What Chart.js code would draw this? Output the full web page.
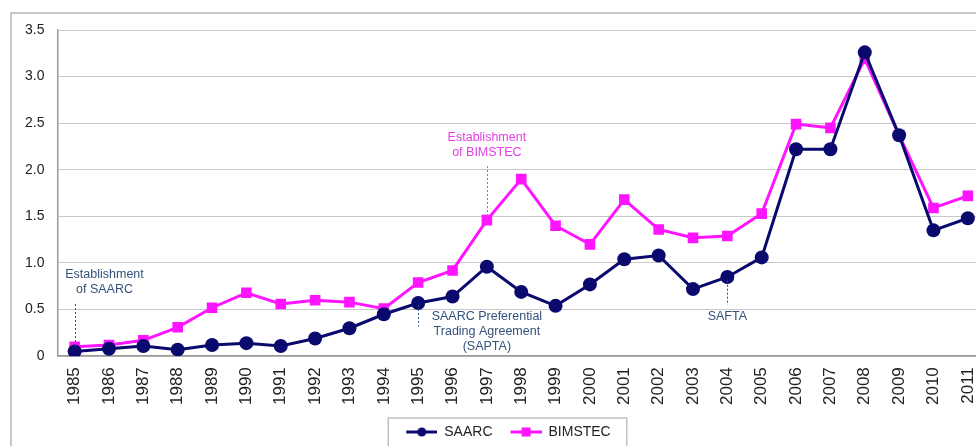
<!DOCTYPE html>
<html>
<head>
<meta charset="utf-8">
<script src="https://cdn.jsdelivr.net/npm/chart.js@4.4.1/dist/chart.umd.min.js"></script>
<style>
  html, body { margin: 0; padding: 0; background: #fff; overflow: hidden; }
  #frame {
    position: absolute; left: 10px; top: 12px;
    width: 1000px; height: 460px;
    border-left: 2px solid #c8c8c8; border-top: 2px solid #c8c8c8;
  }
  #chart { display: block; }
</style>
</head>
<body>
<div id="frame"><canvas id="chart" width="990" height="452"></canvas></div>
<script>
const years = ['1985', '1986', '1987', '1988', '1989', '1990', '1991', '1992', '1993',
  '1994', '1995', '1996', '1997', '1998', '1999', '2000', '2001', '2002', '2003',
  '2004', '2005', '2006', '2007', '2008', '2009', '2010', '2011'];

const saarc = [0.05, 0.08, 0.11, 0.07, 0.12, 0.14, 0.11, 0.19, 0.30,
  0.45, 0.57, 0.64, 0.96, 0.69, 0.54, 0.77, 1.04, 1.08, 0.72,
  0.85, 1.06, 2.22, 2.22, 3.26, 2.37, 1.35, 1.48];

const bimstec = [0.10, 0.12, 0.17, 0.31, 0.52, 0.68, 0.56, 0.60, 0.58,
  0.51, 0.79, 0.92, 1.46, 1.90, 1.40, 1.20, 1.68, 1.36, 1.27,
  1.29, 1.53, 2.49, 2.45, 3.19, 2.37, 1.59, 1.72];

// annotations (x as year index, y as value)
const noteText = [['Establishment', 'of SAARC'], ['Establishment', 'of BIMSTEC'],
  ['SAARC Preferential', 'Trading Agreement', '(SAPTA)'], ['SAFTA']];
const noteTextX = [0.87, 12, 12, 19];
const noteTextY = [0.88, 2.35, 0.42, 0.42];
const noteLineX = [0, 12, 10, 19];
const noteLineTop = [0.56, 2.04, 0.55, 0.81];
const noteLineBottom = [0.10, 1.46, 0.32, 0.55];
const noteColor = ['#34527a', '#e83de8', '#34527a', '#34527a'];

const SAARC_COLOR = '#0a0a6e';
const BIMSTEC_COLOR = '#ff14ff';

// legend icon: transparent lead-in, then line with marker
const legendIcon = (color, style) => {
  const c = document.createElement('canvas');
  c.width = 40;
  c.height = 14;
  const g = c.getContext('2d');
  g.strokeStyle = color;
  g.lineWidth = 3;
  g.beginPath();
  g.moveTo(9, 7);
  g.lineTo(40, 7);
  g.stroke();
  g.fillStyle = color;
  if (style === 'circle') {
    g.beginPath();
    g.arc(24.5, 7, 4.5, 0, Math.PI * 2);
    g.fill();
  } else {
    g.fillRect(20, 2.5, 9, 9);
  }
  return c;
};

const notesPlugin = {
  id: 'notes',
  afterDatasetsDraw(chart) {
    const { ctx, scales: { x, y } } = chart;
    ctx.save();
    noteText.forEach((lines, i) => {
      const lx = Math.round(x.getPixelForValue(noteLineX[i])) + 0.5;
      ctx.strokeStyle = noteColor[i];
      ctx.lineWidth = 1;
      ctx.setLineDash([2, 2]);
      ctx.beginPath();
      ctx.moveTo(lx, y.getPixelForValue(noteLineTop[i]));
      ctx.lineTo(lx, y.getPixelForValue(noteLineBottom[i]));
      ctx.stroke();
      ctx.setLineDash([]);
      ctx.fillStyle = noteColor[i];
      ctx.font = '12.5px "Liberation Sans", Arial, sans-serif';
      ctx.textAlign = 'center';
      ctx.textBaseline = 'middle';
      const tx = x.getPixelForValue(noteTextX[i]);
      const ty = y.getPixelForValue(noteTextY[i]);
      lines.forEach((t, j) => ctx.fillText(t, tx, ty + j * 15));
    });
    ctx.restore();
  },
  afterDraw(chart) {
    const boxes = chart.legend.legendHitBoxes;
    if (!boxes || !boxes.length) return;
    const ctx = chart.ctx;
    const left = Math.min(...boxes.map((b) => b.left)) - 9;
    const right = Math.max(...boxes.map((b) => b.left + b.width)) + 16;
    const top = Math.min(...boxes.map((b) => b.top)) - 7;
    ctx.save();
    ctx.strokeStyle = '#c0c0c0';
    ctx.lineWidth = 1.5;
    ctx.beginPath();
    ctx.moveTo(left, chart.height);
    ctx.lineTo(left, top);
    ctx.lineTo(right, top);
    ctx.lineTo(right, chart.height);
    ctx.stroke();
    ctx.restore();
  },
};

const ctx = document.getElementById('chart').getContext('2d');
new Chart(ctx, {
  type: 'line',
  data: {
    labels: years,
    datasets: [
      {
        label: 'SAARC',
        data: saarc,
        borderColor: SAARC_COLOR,
        backgroundColor: SAARC_COLOR,
        borderWidth: 3,
        pointStyle: 'circle',
        pointRadius: 7,
        pointBorderWidth: 0,
        tension: 0,
      },
      {
        label: 'BIMSTEC',
        data: bimstec,
        borderColor: BIMSTEC_COLOR,
        backgroundColor: BIMSTEC_COLOR,
        borderWidth: 3,
        pointStyle: 'rect',
        pointRadius: 7.5,
        pointBorderWidth: 0,
        tension: 0,
      },
    ],
  },
  options: {
    responsive: false,
    animation: false,
    layout: { padding: { left: 11, right: 17, top: 16, bottom: 17 } },
    plugins: {
      legend: {
        position: 'bottom',
        labels: {
          usePointStyle: true,
          pointStyleWidth: 40,
          boxHeight: 14,
          padding: 9,
          color: '#222',
          font: { family: '"Liberation Sans", Arial, sans-serif', size: 14 },
          generateLabels: (chart) => chart.data.datasets.map((ds, i) => ({
            text: ds.label,
            pointStyle: legendIcon(ds.borderColor, i === 0 ? 'circle' : 'rect'),
            fillStyle: ds.borderColor,
            strokeStyle: ds.borderColor,
            lineWidth: 0,
            fontColor: '#222',
            hidden: false,
            datasetIndex: i,
          })),
        },
      },
      tooltip: { enabled: false },
    },
    scales: {
      x: {
        offset: true,
        grid: { display: false, drawTicks: false },
        border: { color: '#999', width: 1.5 },
        ticks: {
          minRotation: 90,
          maxRotation: 90,
          autoSkip: false,
          padding: 11,
          color: '#222',
          font: { family: '"Liberation Sans", Arial, sans-serif', size: 17 },
        },
      },
      y: {
        min: 0,
        max: 3.5,
        grid: { color: '#c8c8c8', lineWidth: 1, drawTicks: true, tickLength: 11, tickColor: 'transparent' },
        border: { color: '#999', width: 1.5 },
        ticks: {
          stepSize: 0.5,
          padding: 2,
          color: '#222',
          font: { family: '"Liberation Sans", Arial, sans-serif', size: 14 },
          callback: (v) => (v === 0 ? '0' : v.toFixed(1)),
        },
      },
    },
  },
  plugins: [notesPlugin],
});
</script>
</body>
</html>
